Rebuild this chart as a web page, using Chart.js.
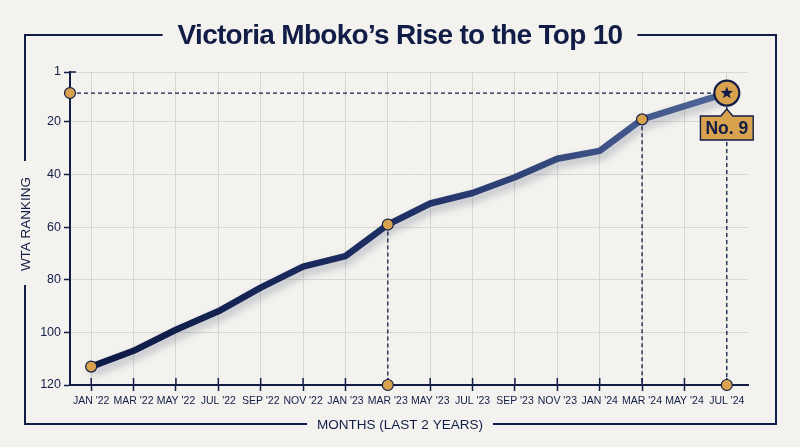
<!DOCTYPE html>
<html>
<head>
<meta charset="utf-8">
<script src="https://cdn.jsdelivr.net/npm/chart.js@4.4.1/dist/chart.umd.min.js"></script>
<style>
  html, body { margin: 0; padding: 0; background: #f3f2ee; }
  #wrap { width: 800px; height: 447px; }
</style>
</head>
<body>
<div id="wrap"><canvas id="rankChart" width="800" height="447"></canvas></div>
<script>
// data (rank, lower is better)
const months = ["JAN '22", "MAR '22", "MAY '22", "JUL '22", "SEP '22", "NOV '22", "JAN '23", "MAR '23",
                "MAY '23", "JUL '23", "SEP '23", "NOV '23", "JAN '24", "MAR '24", "MAY '24", "JUL '24"];
const ranking = [113, 107, 99, 92, 83, 75, 71, 59, 51, 47, 41, 34, 31, 19, 14, 9];
const yTicks = [1, 20, 40, 60, 80, 100, 120];
const highlights = ["JAN '22", "MAR '23", "MAR '24"];
const dropLines = ["MAR '23", "MAR '24", "JUL '24"];
const axisDots = ["MAR '23", "JUL '24"];

const titleText = "Victoria Mboko\u2019s Rise to the Top 10";
const yTitle = "WTA RANKING";
const xTitle = "MONTHS (LAST 2 YEARS)";
const calloutText = "No. " + ranking[ranking.length - 1];

const navy = '#121d47';
const orange = '#d9a24e';
const grid = '#d8d6d1';
const FONT = '"Liberation Sans", Arial, sans-serif';
const last = ranking.length - 1;

// gradient dark -> slate along the line
function lineGradient(context) {
  const chart = context.chart;
  const area = chart.chartArea;
  if (!area) return navy;
  const g = chart.ctx.createLinearGradient(area.left, 0, area.right, 0);
  g.addColorStop(0, '#0c1843');
  g.addColorStop(0.5, '#1f3066');
  g.addColorStop(1, '#536a9c');
  return g;
}

function dot(ctx, x, y, r) {
  ctx.beginPath();
  ctx.arc(x, y, r, 0, Math.PI * 2);
  ctx.fillStyle = orange;
  ctx.fill();
  ctx.lineWidth = 1.2;
  ctx.strokeStyle = navy;
  ctx.stroke();
}

function star(ctx, x, y, outer, inner) {
  ctx.beginPath();
  for (let i = 0; i < 10; i++) {
    const r = i % 2 === 0 ? outer : inner;
    const a = -Math.PI / 2 + i * Math.PI / 5;
    ctx.lineTo(x + r * Math.cos(a), y + r * Math.sin(a));
  }
  ctx.closePath();
  ctx.fillStyle = navy;
  ctx.fill();
}

/* frame, title, axis titles */
const framePlugin = {
  id: 'frame',
  beforeDraw(chart) {
    const ctx = chart.ctx;
    ctx.save();
    ctx.fillStyle = '#f3f2ee';
    ctx.fillRect(0, 0, chart.width, chart.height);

    const L = 25, T = 35, R = 776, B = 424;
    ctx.fillStyle = navy;
    ctx.textAlign = 'center';
    ctx.textBaseline = 'middle';

    ctx.font = 'bold 28px ' + FONT;
    ctx.letterSpacing = '-0.7px';
    const tw = ctx.measureText(titleText).width;
    ctx.fillText(titleText, 400, T + 1);
    ctx.letterSpacing = '0px';

    ctx.font = '13.5px ' + FONT;
    const xw = ctx.measureText(xTitle).width;
    ctx.fillText(xTitle, 400, B + 1);
    const yw = ctx.measureText(yTitle).width;
    const yc = 224;
    ctx.save();
    ctx.translate(L, yc);
    ctx.rotate(-Math.PI / 2);
    ctx.fillText(yTitle, 0, 1);
    ctx.restore();

    ctx.strokeStyle = navy;
    ctx.lineWidth = 2;
    ctx.beginPath();
    ctx.moveTo(400 - tw / 2 - 15, T);
    ctx.lineTo(L, T);
    ctx.lineTo(L, yc - yw / 2 - 16);
    ctx.moveTo(L, yc + yw / 2 + 14);
    ctx.lineTo(L, B);
    ctx.lineTo(400 - xw / 2 - 10, B);
    ctx.moveTo(400 + xw / 2 + 10, B);
    ctx.lineTo(R, B);
    ctx.lineTo(R, T);
    ctx.lineTo(400 + tw / 2 + 15, T);
    ctx.stroke();
    ctx.restore();
  }
};

/* dashed guides, inner ticks, shadow under the line, dots and callout */
const guidePlugin = {
  id: 'guides',
  beforeDatasetsDraw(chart) {
    const ctx = chart.ctx;
    const x = chart.scales.x, y = chart.scales.y;
    const area = chart.chartArea;
    ctx.save();
    ctx.strokeStyle = navy;
    ctx.lineWidth = 1.5;
    months.forEach((m, i) => {
      const px = x.getPixelForValue(i);
      ctx.beginPath();
      ctx.moveTo(px, area.bottom - 7);
      ctx.lineTo(px, area.bottom);
      ctx.stroke();
    });
    // the T at the top of the y axis
    const topY = y.getPixelForValue(yTicks[0]);
    ctx.beginPath();
    ctx.moveTo(area.left, topY);
    ctx.lineTo(area.left + 6, topY);
    ctx.stroke();

    ctx.setLineDash([4, 3]);
    ctx.lineWidth = 1.3;
    const py = y.getPixelForValue(ranking[last]);
    ctx.beginPath();
    ctx.moveTo(area.left, py);
    ctx.lineTo(x.getPixelForValue(last), py);
    ctx.stroke();
    dropLines.forEach(m => {
      const i = months.indexOf(m);
      const px = x.getPixelForValue(i);
      ctx.beginPath();
      ctx.moveTo(px, y.getPixelForValue(ranking[i]));
      ctx.lineTo(px, area.bottom);
      ctx.stroke();
    });
    ctx.restore();
  },
  beforeDatasetDraw(chart, args) {
    if (args.index !== 0) return;
    const ctx = chart.ctx;
    ctx.save();
    ctx.shadowColor = 'rgba(15, 28, 70, 0.28)';
    ctx.shadowBlur = 8;
    ctx.shadowOffsetX = 2;
    ctx.shadowOffsetY = 5;
  },
  afterDatasetDraw(chart, args) {
    if (args.index !== 0) return;
    chart.ctx.restore();
  },
  afterDatasetsDraw(chart) {
    const ctx = chart.ctx;
    const x = chart.scales.x, y = chart.scales.y;
    const area = chart.chartArea;
    ctx.save();
    dot(ctx, area.left, y.getPixelForValue(ranking[last]), 5.5);
    axisDots.forEach(m => dot(ctx, x.getPixelForValue(months.indexOf(m)), area.bottom, 5.5));

    const p = chart.getDatasetMeta(2).data[last];
    star(ctx, p.x, p.y, 6.5, 2.7);

    // callout box with pointer
    ctx.font = 'bold 17.5px ' + FONT;
    const w = ctx.measureText(calloutText).width + 10;
    const h = 24, top = p.y + 23, tip = p.y + 16;
    ctx.beginPath();
    ctx.moveTo(p.x - w / 2, top);
    ctx.lineTo(p.x - 6, top);
    ctx.lineTo(p.x, tip);
    ctx.lineTo(p.x + 6, top);
    ctx.lineTo(p.x + w / 2, top);
    ctx.lineTo(p.x + w / 2, top + h);
    ctx.lineTo(p.x - w / 2, top + h);
    ctx.closePath();
    ctx.fillStyle = orange;
    ctx.fill();
    ctx.strokeStyle = navy;
    ctx.lineWidth = 1.4;
    ctx.stroke();
    ctx.fillStyle = navy;
    ctx.textAlign = 'center';
    ctx.textBaseline = 'middle';
    ctx.fillText(calloutText, p.x, top + h / 2 + 1);
    ctx.restore();
  }
};

new Chart(document.getElementById('rankChart'), {
  type: 'line',
  data: {
    labels: months,
    datasets: [
      {
        label: 'WTA ranking',
        data: ranking,
        order: 2,
        borderColor: lineGradient,
        borderWidth: 6.5,
        tension: 0,
        borderJoinStyle: 'round',
        borderCapStyle: 'round',
        pointRadius: 0,
        fill: false
      },
      {
        label: 'Milestones',
        data: months.map((m, i) => highlights.includes(m) ? ranking[i] : null),
        order: 1,
        showLine: false,
        pointRadius: 5.5,
        pointBackgroundColor: orange,
        pointBorderColor: navy,
        pointBorderWidth: 1.2
      },
      {
        label: 'Current',
        data: months.map((m, i) => i === last ? ranking[i] : null),
        order: 0,
        showLine: false,
        pointRadius: 12.5,
        pointBackgroundColor: orange,
        pointBorderColor: navy,
        pointBorderWidth: 2.2
      }
    ]
  },
  options: {
    responsive: false,
    animation: false,
    devicePixelRatio: 1,
    layout: { padding: { top: 72, left: 30, right: 52, bottom: 20 } },
    plugins: {
      legend: { display: false },
      tooltip: { enabled: false },
      title: { display: false }
    },
    scales: {
      x: {
        offset: true,
        afterFit: scale => { scale.height = 42; },
        grid: { color: grid, lineWidth: 1, tickColor: navy, tickWidth: 1.5, tickLength: 6 },
        border: { color: navy, width: 2 },
        ticks: {
          autoSkip: false, maxRotation: 0, padding: 4,
          color: navy, font: { family: FONT, size: 10.5 }
        }
      },
      y: {
        reverse: true,
        min: 1,
        max: 120,
        afterFit: scale => { scale.width = 40; },
        afterBuildTicks: axis => { axis.ticks = yTicks.map(v => ({ value: v })); },
        grid: { color: grid, lineWidth: 1, tickColor: navy, tickWidth: 1.5, tickLength: 6 },
        border: { color: navy, width: 2 },
        ticks: {
          padding: 3,
          color: navy, font: { family: FONT, size: 12.5 }
        }
      }
    }
  },
  plugins: [framePlugin, guidePlugin]
});
</script>
</body>
</html>
